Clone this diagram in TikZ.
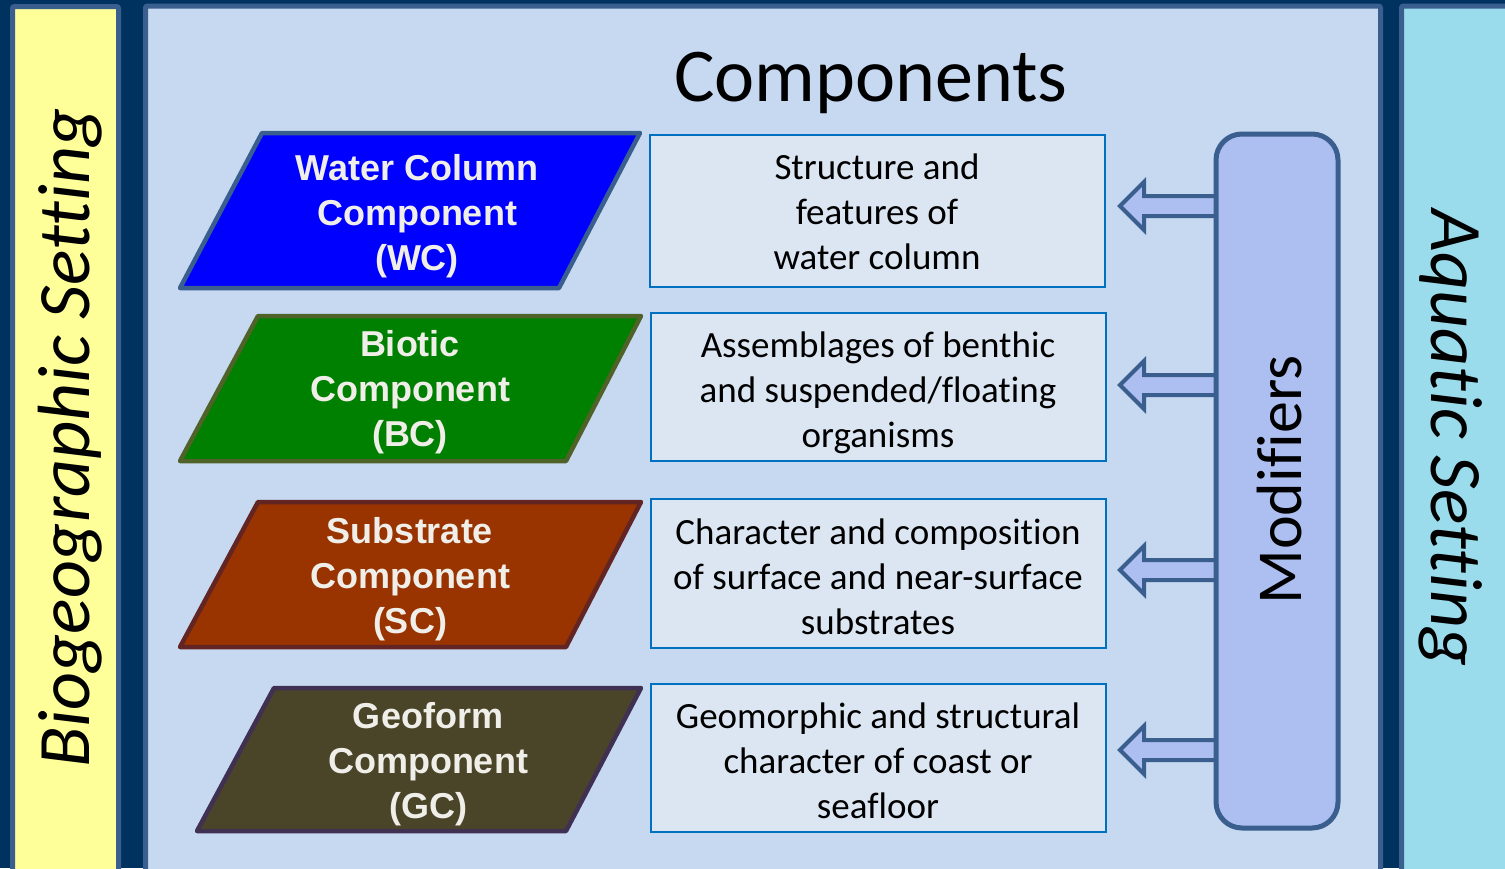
\documentclass[tikz,border=0pt]{standalone}
\usepackage{fontspec}
\setmainfont{Carlito}[Ligatures=NoCommon]
\newfontfamily\arialf{Liberation Sans}
\definecolor{navy}{HTML}{00325F}
\definecolor{pborder}{HTML}{3A5F8F}
\definecolor{yel}{HTML}{FFFF99}
\definecolor{midbg}{HTML}{C6D9F1}
\definecolor{cyanbg}{HTML}{9BDCEC}
\definecolor{boxfill}{HTML}{DCE6F2}
\definecolor{boxline}{HTML}{0070C0}
\definecolor{modfill}{HTML}{ADBFF1}
\definecolor{wcfill}{HTML}{0000FF}
\definecolor{bcfill}{HTML}{008000}
\definecolor{bcline}{HTML}{4F6228}
\definecolor{scfill}{HTML}{993300}
\definecolor{scline}{HTML}{632523}
\definecolor{gcfill}{HTML}{4A4529}
\definecolor{gcline}{HTML}{403152}
\definecolor{offwhite}{HTML}{F0EEE8}
\begin{document}
\begin{tikzpicture}[x=1pt,y=-1pt,
  panel/.style={draw=pborder,line width=5pt,rounded corners=2pt},
  para/.style={line width=4.5pt,line join=round},
  ctext/.style={text=offwhite,font=\arialf\bfseries\fontsize{36}{45}\selectfont,align=center,inner sep=0pt,
    text height=117.6pt,text depth=9pt},
  descbox/.style={draw=boxline,fill=boxfill,line width=2pt,minimum width=455pt,inner sep=0pt},
  dtext/.style={align=center,inner sep=0pt,font=\fontsize{37}{45}\selectfont,text height=116.2pt,text depth=9pt},
  arr/.style={draw=pborder,fill=modfill,line width=4pt,line join=miter},
  sidetext/.style={font=\itshape\fontsize{74}{85}\selectfont,inner sep=0pt}]
\useasboundingbox (0,0) rectangle (1505,868);
\fill[navy] (0,0) rectangle (1505,868);
% panels
\draw[panel,fill=yel] (12.5,880) -- (12.5,6.5) -- (118.5,6.5) -- (118.5,880);
\draw[panel,fill=midbg] (145.5,880) -- (145.5,6) -- (1380.5,6) -- (1380.5,880);
\draw[panel,fill=cyanbg] (1401.5,880) -- (1401.5,6) -- (1515,6) -- (1515,880);
% side labels
\node[sidetext,rotate=90] (bio) at (70,438) {Biogeographic Setting};
\node[sidetext,rotate=-90] (aqua) at (1451,438) {Aquatic Setting};
% title
\node[font=\fontsize{76}{90}\selectfont,inner sep=0pt] (title) at (871,83) {Components};
% parallelograms
\draw[para,draw=pborder,fill=wcfill] (262,133) -- (640,133) -- (559,288) -- (180,288) -- cycle;
\draw[para,draw=bcline,fill=bcfill] (258,316) -- (641,316) -- (566,461) -- (180,461) -- cycle;
\draw[para,draw=scline,fill=scfill] (258,502) -- (641,502) -- (566,647) -- (180,647) -- cycle;
\draw[para,draw=gcline,fill=gcfill] (274,688) -- (641,688) -- (566,831) -- (197,831) -- cycle;
\node[ctext] (wc) at (417,216) {Water Column\\Component\\(WC)};
\node[ctext] (bc) at (410,392) {Biotic\\Component\\(BC)};
\node[ctext] (sc) at (410,579) {Substrate\\Component\\(SC)};
\node[ctext] (gc) at (428,764) {Geoform\\Component\\(GC)};
% description boxes
\node[descbox,minimum height=152pt] (wcd) at (877.5,211) {};
\node[descbox,minimum height=148pt] (bcd) at (878,387) {};
\node[descbox,minimum height=149pt] (scd) at (878,573.5) {};
\node[descbox,minimum height=148pt] (gcd) at (878,758) {};
\node[dtext] (wct) at (877,216) {Structure and\\features of\\water column};
\node[dtext] (bct) at (878,394) {Assemblages of benthic\\and suspended/floating\\organisms};
\node[dtext] (sct) at (878,581) {Character and composition\\of surface and near-surface\\substrates};
\node[dtext] (gct) at (878,765) {Geomorphic and structural\\character of coast or\\seafloor};
% arrows
\foreach \yy in {206,385,570,750}{
  \draw[arr,shift={(0,\yy)}] (1228,-10) -- (1144,-10) -- (1144,-24) -- (1120,0) -- (1144,24) -- (1144,10) -- (1228,10) -- cycle;
}
% modifiers
\node[draw=pborder,fill=modfill,line width=5pt,rounded corners=26pt,minimum width=122pt,minimum height=694pt,inner sep=0pt] (mod) at (1277,481) {};
\node[font=\fontsize{64}{70}\selectfont,rotate=90,inner sep=0pt] (modt) at (1280,480) {Modifiers};
\end{tikzpicture}
\end{document}
